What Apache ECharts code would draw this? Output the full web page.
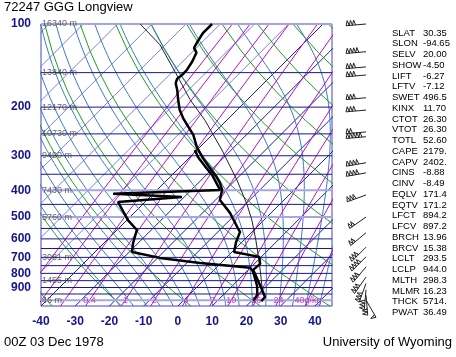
<!DOCTYPE html>
<html><head><meta charset="utf-8">
<script src="https://cdn.jsdelivr.net/npm/echarts@6/dist/echarts.min.js"></script>
<style>html,body{margin:0;padding:0;background:#fff}#c{width:456px;height:357px}</style>
</head><body><div id="c"></div>
<script>
// ---------------- data ----------------
const tempP = [100,108,116,122,127,137,147,153,158,164,173,188,205,219,232,252,279,306,332,355,376,399,434,483,548,566,616,669,697,739,777,817,902,974,1008];
const tempT = [-72.4,-72.4,-71.5,-70.7,-68.6,-67.2,-66.3,-66.3,-66.6,-65.7,-63.4,-60.2,-56.7,-53.4,-50.2,-45.5,-40.9,-35.9,-31.0,-26.9,-23.7,-21.0,-18.7,-12.0,-5.3,-3.5,-1.7,0.6,9.4,11.7,11.4,14.0,19.0,22.8,22.9];
const dewP = [286,303,327,352,380,399,412,423,441,513,557,621,669,703,733,764,790,887,956,1005];
const dewT = [-40.6,-37.7,-33.0,-28.3,-24.2,-21.6,-51.7,-30.7,-47.9,-39.7,-34.2,-31.5,-29.2,-19.3,-6.1,10.0,12.0,17.2,19.9,20.5];
const parcelP = [100,119,153,188,223,286,367,452,513,606,715,844,917,944];
const parcelT = [-93.4,-81.5,-67.8,-56.7,-46.4,-32.7,-19.6,-9.3,-3.5,3.5,10.2,16.7,19.9,20.4];
const windP   = [100,126,143,153,185,205,246,256,318,346,416,500,570,643,697,758,825,870,917,960,999];
const windDir = [265,265,265,265,265,265,265,265,260,260,250,235,230,225,225,220,215,200,185,175,150];
const windSpd = [30,40,30,30,30,30,20,50,40,40,30,25,25,35,40,35,30,30,30,25,15];
const isobarsDark = [150,200,250,300,350,450,550,600,650,700,750,800,850,900,950];
const isobarsLight = [100,400,500,1000];
const isotherms = [-130,-120,-110,-100,-90,-80,-70,-60,-50,-40,-30,-20,-10,0,10,20,30,40];
const dryThetaC = [-40,-20,0,20,40,60,80,100,120,140,160,180,200];
const moistThetaW = [-20,-16,-12,-8,-4,0,4,8,12,16,20,24,28,32,36,40];
const mixRatios = [0.05,0.1,0.2,0.4,1,2,4,7,10,16,24,40];
const mixLabels = ['','','','0.4','1','2','4','7','10','16','24','40g/kg'];
const heightP = [100,150,200,250,300,400,500,700,850,1000];
const heightLabels = ['16340 m','13840 m','12170 m','10730 m','9490 m','7430 m','5760 m','3081 m','1455 m','46 m'];
const xTicks = [-40,-30,-20,-10,0,10,20,30,40];
const pTicks = [100,200,300,400,500,600,700,800,900];
const statNames = ['SLAT','SLON','SELV','SHOW','LIFT','LFTV','SWET','KINX','CTOT','VTOT','TOTL','CAPE','CAPV','CINS','CINV','EQLV','EQTV','LFCT','LFCV','BRCH','BRCV','LCLT','LCLP','MLTH','MLMR','THCK','PWAT'];
const statValues = ['30.35','-94.65','20.00','-4.50','-6.27','-7.12','496.5','11.70','26.30','26.30','52.60','2179.','2402.','-8.88','-8.49','171.4','171.2','894.2','897.2','13.96','15.38','293.5','944.0','298.3','16.23','5714.','36.49'];
const titleText = '72247 GGG Longview';
const dateText = '00Z 03 Dec 1978';
const creditText = 'University of Wyoming';

// ---------------- layout ----------------
const GL = 41, GT = 24, GW = 291, GH = 282;
const P0 = 1050, PT = 100, XMIN = -40, XMAX = 45;
const K = (GH / Math.log(P0 / PT)) / (GW / (XMAX - XMIN));
const sx = (T, p) => T + K * Math.log(P0 / p);
const NAVY = '#14148c';

function presList(step) { const a = []; for (let p = P0; p >= PT - 0.01; p -= step) a.push(p); return a; }
function es(Tc) { return 6.112 * Math.exp(17.67 * Tc / (Tc + 243.5)); }
function tdFromW(w, p) { const e = w * p / (622 + w); const l = Math.log(e / 6.112); return 243.5 * l / (17.67 - l); }
function moistLapse(Tk, p) {
  const Rd = 287.04, Lv = 2.501e6, Cp = 1005.7, eps = 0.622;
  const e = es(Tk - 273.15), rs = eps * e / (p - e);
  return (1 / p) * (Rd * Tk + Lv * rs) / (Cp + Lv * Lv * rs * eps / (Rd * Tk * Tk));
}
function moistCurve(tw) {
  const pts = {};
  const step = 5;
  let T = tw + 273.15;
  pts[1000] = T;
  for (let p = 1000; p > PT; p -= step) {
    const k1 = moistLapse(T, p), k2 = moistLapse(T - step * k1 / 2, p - step / 2);
    const k3 = moistLapse(T - step * k2 / 2, p - step / 2), k4 = moistLapse(T - step * k3, p - step);
    T = T - step * (k1 + 2 * k2 + 2 * k3 + k4) / 6; pts[p - step] = T;
  }
  T = tw + 273.15;
  for (let p = 1000; p < P0; p += step) { T = T + step * moistLapse(T, p); pts[p + step] = T; }
  return Object.keys(pts).map(Number).sort((a, b) => b - a).map(p => [sx(pts[p] - 273.15, p), p]);
}

const series = [];
function addLine(data, color, width, type, z) {
  series.push({ type: 'line', data, symbol: 'none', silent: true, animation: false, clip: true,
    lineStyle: { color, width, type: type || 'solid' }, z: z || 1 });
}
isotherms.forEach(T => addLine([[sx(T, P0), P0], [sx(T, PT), PT]], T <= -50 ? '#7e7ee0' : '#1c1cb0', 1));
dryThetaC.forEach(th => addLine(presList(25).map(p => [sx((th + 273.15) * Math.pow(p / 1000, 0.2857) - 273.15, p), p]), '#1f9f1f', 1));
moistThetaW.forEach(tw => addLine(moistCurve(tw), '#3a78c2', 1));
mixRatios.forEach(w => addLine(presList(25).map(p => [sx(tdFromW(w, p), p), p]), '#bb10bb', 1));
isobarsDark.forEach(p => addLine([[XMIN, p], [XMAX, p]], '#16168a', 1, 'solid', 2));
isobarsLight.forEach(p => addLine([[XMIN, p], [XMAX, p]], '#a6a6e6', 2, 'solid', 2));
addLine(parcelP.map((p, i) => [sx(parcelT[i], p), p]), '#222', 1, 'solid', 5);
addLine(dewP.map((p, i) => [sx(dewT[i], p), p]), '#000', 2.5, 'solid', 6);
addLine(tempP.map((p, i) => [sx(tempT[i], p), p]), '#000', 2.5, 'solid', 6);

series.push({ type: 'scatter', symbolSize: 0, silent: true, animation: false, z: 7,
  data: heightP.map((p, i) => ({ value: [XMIN, p], name: heightLabels[i] })),
  label: { show: true, position: 'right', distance: 1, formatter: d => d.name, color: '#444', fontSize: 9, fontFamily: 'Liberation Sans' } });
series.push({ type: 'scatter', symbolSize: 0, silent: true, animation: false, z: 7,
  data: mixRatios.map((w, i) => ({ value: [sx(tdFromW(w, 1000), 1000), 1000], name: mixLabels[i] })).filter(d => d.name),
  label: { show: true, position: 'inside', formatter: d => d.name, color: '#bb10bb', fontSize: 9, fontFamily: 'Liberation Sans' } });

series.push({ type: 'custom', silent: true, animation: false, clip: false, z: 8,
  data: windP.map((p, i) => [XMAX, p, windDir[i], windSpd[i]]),
  encode: { x: 0, y: 1 },
  renderItem: function (params, api) {
    const pt = api.coord([api.value(0), api.value(1)]);
    const sx0 = pt[0] + 34, sy0 = pt[1];
    const d = api.value(2) * Math.PI / 180, spd = api.value(3);
    const ux = Math.sin(d), uy = -Math.cos(d), nx = -uy, ny = ux;
    const L = 20, sp = 3.2, h = 5;
    const ex = sx0 + L * ux, ey = sy0 + L * uy;
    const children = [{ type: 'line', shape: { x1: sx0, y1: sy0, x2: ex, y2: ey }, style: { stroke: '#222', lineWidth: 1 } }];
    const n10 = Math.floor(spd / 10), n5 = (spd % 10) >= 5 ? 1 : 0;
    const pts = [[ex, ey]];
    for (let i = 0; i < n10; i++) {
      const bx = ex - i * sp * ux, by = ey - i * sp * uy;
      pts.push([bx - sp / 2 * ux + h * nx, by - sp / 2 * uy + h * ny]);
      pts.push([bx - sp * ux, by - sp * uy]);
    }
    if (pts.length > 1) children.push({ type: 'polyline', shape: { points: pts }, style: { stroke: '#222', lineWidth: 1, fill: null } });
    if (n5) {
      const bx = ex - n10 * sp * ux, by = ey - n10 * sp * uy;
      children.push({ type: 'line', shape: { x1: bx, y1: by, x2: bx + h * 0.5 * nx + 1 * ux, y2: by + h * 0.5 * ny + 1 * uy }, style: { stroke: '#222', lineWidth: 1 } });
    }
    return { type: 'group', children };
  } });

const graphics = [
  { type: 'text', left: 4, top: 1, style: { text: titleText, font: '13px "Liberation Sans"', fill: '#000' } },
  { type: 'text', left: 4, top: 336, style: { text: dateText, font: '13px "Liberation Sans"', fill: '#000' } },
  { type: 'text', right: 4, top: 336, style: { text: creditText, font: '13px "Liberation Sans"', fill: '#000' } }
];
statNames.forEach((n, i) => {
  const y = 33 + i * 10.75;
  graphics.push({ type: 'text', x: 392, y, style: { text: n, font: '9.5px "Liberation Sans"', fill: '#000', verticalAlign: 'middle' } });
  graphics.push({ type: 'text', x: 423, y, style: { text: statValues[i], font: '9.5px "Liberation Sans"', fill: '#000', verticalAlign: 'middle' } });
});

const chart = echarts.init(document.getElementById('c'), null, { renderer: 'canvas' });
chart.setOption({
  animation: false,
  backgroundColor: '#fff',
  grid: { left: GL, top: GT, width: GW, height: GH, show: true, borderColor: '#4444c4', borderWidth: 1, backgroundColor: 'transparent' },
  xAxis: { type: 'value', min: XMIN, max: XMAX, interval: 10, splitLine: { show: false }, axisLine: { show: false }, axisTick: { show: false },
    axisLabel: { customValues: xTicks, color: NAVY, fontSize: 12, fontWeight: 'bold', fontFamily: 'Liberation Sans', margin: 10 } },
  yAxis: { type: 'log', logBase: 10, min: PT, max: P0, inverse: true, splitLine: { show: false }, axisLine: { show: false }, axisTick: { show: false },
    axisLabel: { customValues: pTicks, color: NAVY, fontSize: 12, fontWeight: 'bold', fontFamily: 'Liberation Sans', margin: 10 } },
  series,
  graphic: graphics
});
</script></body></html>
